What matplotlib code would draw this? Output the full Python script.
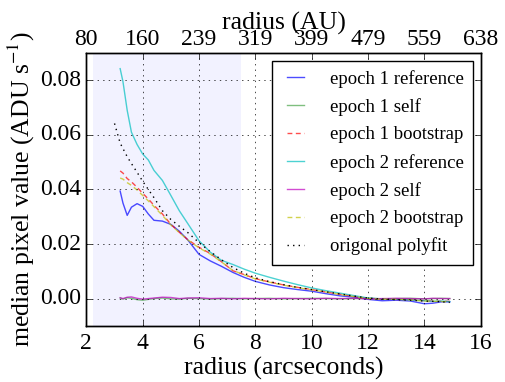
import matplotlib
matplotlib.use('Agg')
import matplotlib.pyplot as plt

plt.style.use('classic')
plt.rcParams['font.family'] = 'serif'
plt.rcParams['font.serif'] = ['Liberation Serif', 'DejaVu Serif']
plt.rcParams['mathtext.fontset'] = 'stix'

# radius sample points (arcsec) for the profiles
radius = [3.2, 3.3, 3.45, 3.6, 3.8, 4.0, 4.2, 4.4, 4.7, 5.0, 5.3, 5.6, 6.0,
          6.4, 6.8, 7.2, 7.6, 8.0, 8.5, 9.0, 9.5, 10.0, 10.5, 11.0, 11.5,
          12.0, 12.5, 13.0, 13.5, 14.0, 14.3, 14.6, 14.9]

ep1_ref = [0.0394, 0.0350, 0.0305, 0.0335, 0.0348, 0.0338, 0.0310, 0.0287,
           0.0284, 0.0272, 0.0247, 0.0215, 0.0162, 0.0138, 0.0118, 0.0096,
           0.0078, 0.0063, 0.0050, 0.0040, 0.0033, 0.0027, 0.0018, 0.0010,
           0.0005, -0.0003, -0.0008, -0.0006, -0.0009, -0.0019, -0.0017,
           -0.0012, -0.0012]
ep1_self = [0.0002, -0.0002, 0.0003, 0.0001, -0.0004, -0.0006, -0.0003, 0.0000,
            0.0002, -0.0001, -0.0002, 0.0001, 0.0000, -0.0002, 0.0000, 0.0001,
            -0.0001, 0.0000, 0.0001, -0.0001, 0.0000, 0.0001, 0.0000, -0.0001,
            0.0000, 0.0001, -0.0001, 0.0000, 0.0001, -0.0001, 0.0000, 0.0001,
            0.0000]
ep1_boot = [0.0468, 0.0460, 0.0440, 0.0428, 0.0408, 0.0386, 0.0365, 0.0342,
            0.0310, 0.0272, 0.0243, 0.0216, 0.0188, 0.0165, 0.0135, 0.0102,
            0.0088, 0.0073, 0.0061, 0.0050, 0.0041, 0.0033, 0.0024, 0.0016,
            0.0008, 0.0001, -0.0002, -0.0003, -0.0004, -0.0008, -0.0009,
            -0.0010, -0.0010]
ep2_ref = [0.0843, 0.0795, 0.0690, 0.0610, 0.0565, 0.0530, 0.0508, 0.0470,
           0.0433, 0.0378, 0.0322, 0.0275, 0.0212, 0.0170, 0.0140, 0.0125,
           0.0108, 0.0093, 0.0078, 0.0064, 0.0051, 0.0039, 0.0029, 0.0020,
           0.0011, 0.0002, -0.0001, -0.0002, -0.0005, -0.0008, -0.0010,
           -0.0009, -0.0011]
ep2_self = [0.0003, 0.0000, 0.0005, 0.0006, 0.0001, -0.0002, 0.0000, 0.0002,
            0.0005, 0.0004, 0.0000, 0.0002, 0.0003, 0.0000, 0.0001, -0.0001,
            0.0001, 0.0000, -0.0001, 0.0001, 0.0000, -0.0001, 0.0001, 0.0000,
            0.0001, -0.0001, 0.0000, 0.0001, 0.0000, -0.0001, 0.0001, 0.0000,
            0.0000]
ep2_boot = [0.0442, 0.0438, 0.0425, 0.0415, 0.0398, 0.0378, 0.0358, 0.0337,
            0.0305, 0.0270, 0.0242, 0.0215, 0.0186, 0.0163, 0.0134, 0.0103,
            0.0087, 0.0072, 0.0060, 0.0049, 0.0040, 0.0032, 0.0024, 0.0015,
            0.0007, 0.0000, -0.0002, -0.0003, -0.0005, -0.0009, -0.0010,
            -0.0011, -0.0012]

# polyfit is evaluated from a slightly smaller radius
fit_radius = [3.0, 3.2, 3.45, 3.6, 3.8, 4.0, 4.2, 4.4, 4.7, 5.0, 5.3, 5.6,
              6.0, 6.4, 6.8, 7.2, 7.6, 8.0, 8.5, 9.0, 9.5, 10.0, 10.5, 11.0,
              11.5, 12.0, 12.5, 13.0, 13.5, 14.0, 14.5, 14.9]
fit = [0.0642, 0.0570, 0.0520, 0.0495, 0.0463, 0.0430, 0.0400, 0.0370,
       0.0322, 0.0290, 0.0265, 0.0242, 0.0205, 0.0172, 0.0142, 0.0114,
       0.0093, 0.0076, 0.0062, 0.0051, 0.0041, 0.0033, 0.0025, 0.0017,
       0.0009, 0.0002, -0.0002, -0.0004, -0.0006, -0.0009, -0.0011, -0.0014]

arcsec_ticks = [2, 4, 6, 8, 10, 12, 14, 16]
au_labels = ['80', '160', '239', '319', '399', '479', '559', '638']
y_ticks = [0.00, 0.02, 0.04, 0.06, 0.08]

fig = plt.figure(figsize=(5.05, 3.82), dpi=100)
fig.patch.set_facecolor('white')
ax = fig.add_axes([0.171, 0.147, 0.781, 0.714])

ax.axvspan(2.24, 7.5, facecolor='blue', alpha=0.05, edgecolor='none')

a = 0.7
dash = (3.5, 2.5)
ax.plot(radius, ep1_ref, 'b-', alpha=a, label='epoch 1 reference')
ax.plot(radius, ep1_self, 'g-', alpha=0.5, label='epoch 1 self')
ax.plot(radius, ep1_boot, 'r--', dashes=dash, alpha=a, label='epoch 1 bootstrap')
ax.plot(radius, ep2_ref, 'c-', alpha=a, label='epoch 2 reference')
ax.plot(radius, ep2_self, 'm-', alpha=a, label='epoch 2 self')
ax.plot(radius, ep2_boot, 'y--', dashes=dash, alpha=a, label='epoch 2 bootstrap')
ax.plot(fit_radius, fit, 'k:', label='origonal polyfit')

ax.set_xlim(2, 16)
ax.set_ylim(-0.01, 0.09)
ax.set_xticks(arcsec_ticks)
ax.set_yticks(y_ticks)
ax.set_yticklabels(['%.2f' % v for v in y_ticks])
ax.tick_params(labelsize=17)
ax.tick_params(axis='x', pad=5)
ax.grid(True)
ax.set_xlabel('radius (arcseconds)', fontsize=18.5, labelpad=2)
ax.set_ylabel('median pixel value (ADU s$^{-1}$)', fontsize=18.5, labelpad=2)

leg = ax.legend(loc='upper right', fontsize=13.5, handlelength=1.5,
                handletextpad=1.1, borderpad=0.5, labelspacing=0.55,
                borderaxespad=0.4)
leg.get_frame().set_edgecolor('black')

# top axis in AU
ax2 = ax.twiny()
ax2.set_xlim(ax.get_xlim())
ax2.set_xticks(arcsec_ticks)
ax2.set_xticklabels(au_labels)
ax2.tick_params(labelsize=17, pad=2)
ax2.set_xlabel('radius (AU)', fontsize=18.5, labelpad=0)

fig.savefig('out.png', dpi=100)
